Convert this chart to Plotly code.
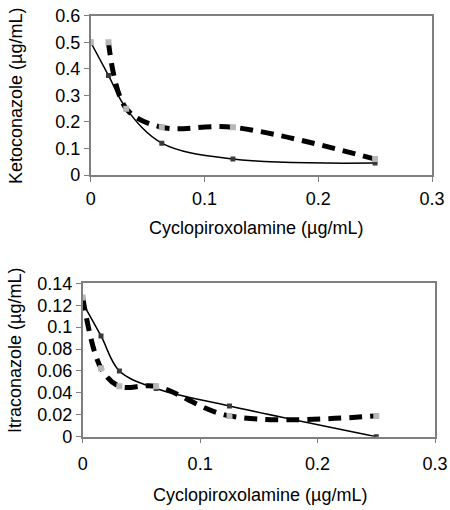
import plotly.graph_objects as go

# Top panel: Ketoconazole vs Cyclopiroxolamine
cpo_x = [0, 0.0156, 0.03125, 0.0625, 0.125, 0.25]
keto_solid = [0.5, 0.375, 0.25, 0.12, 0.06, 0.045]
keto_dashed = [0.5, 0.5, 0.25, 0.18, 0.18, 0.06]

# Bottom panel: Itraconazole vs Cyclopiroxolamine
itra_solid = [0.122, 0.092, 0.06, 0.044, 0.028, 0.0]
itra_dashed = [0.127, 0.0625, 0.046, 0.046, 0.019, 0.019]

x_ticks = [0, 0.1, 0.2, 0.3]
x_ticklabels = ["0", "0.1", "0.2", "0.3"]
keto_ticks = [0, 0.1, 0.2, 0.3, 0.4, 0.5, 0.6]
keto_ticklabels = ["0", "0.1", "0.2", "0.3", "0.4", "0.5", "0.6"]
itra_ticks = [0, 0.02, 0.04, 0.06, 0.08, 0.1, 0.12, 0.14]
itra_ticklabels = ["0", "0.02", "0.04", "0.06", "0.08", "0.1", "0.12", "0.14"]

x_title = "Cyclopiroxolamine (µg/mL)"
keto_title = "Ketoconazole (µg/mL)"
itra_title = "Itraconazole (µg/mL)"

FONT = "Liberation Sans, Arial, sans-serif"
W, H = 450, 510

fig = go.Figure()

SOLID_LINE = dict(color="black", width=1.5, shape="spline", smoothing=1)
SOLID_MARK = dict(symbol="square", size=5, color="#3a3a3a")
DASH_LINE = dict(color="black", width=5, dash="13px,8px", shape="spline", smoothing=1)
DASH_MARK = dict(symbol="square", size=6, color="#b8b8b8")

def add_pair(xa, ya, solid, dashed, dashed_line_start):
    fig.add_trace(go.Scatter(
        x=cpo_x, y=solid, xaxis=xa, yaxis=ya, mode="lines+markers",
        line=SOLID_LINE, marker=SOLID_MARK, showlegend=False, hoverinfo="skip"))
    s = dashed_line_start
    fig.add_trace(go.Scatter(
        x=cpo_x[s:], y=dashed[s:], xaxis=xa, yaxis=ya, mode="lines+markers",
        line=DASH_LINE, marker=DASH_MARK, showlegend=False, hoverinfo="skip"))
    if s > 0:
        fig.add_trace(go.Scatter(
            x=cpo_x[:s], y=dashed[:s], xaxis=xa, yaxis=ya, mode="markers",
            marker=DASH_MARK, showlegend=False, hoverinfo="skip"))

add_pair("x", "y", keto_solid, keto_dashed, 1)
add_pair("x2", "y2", itra_solid, itra_dashed, 0)

def px_dom(a, b, total, flip=False):
    if flip:
        return [1 - b / total, 1 - a / total]
    return [a / total, b / total]

axis_common = dict(
    showline=True, mirror=True, linecolor="#7f7f7f", linewidth=1.5,
    ticks="outside", ticklen=5, tickcolor="#7f7f7f", tickwidth=1,
    showgrid=False, zeroline=False, automargin=False,
    tickfont=dict(family=FONT, size=18, color="black"),
)

fig.update_layout(
    width=W, height=H,
    margin=dict(l=0, r=0, t=0, b=0),
    paper_bgcolor="white", plot_bgcolor="white",
    xaxis=dict(domain=px_dom(90.7, 432, W), range=[0, 0.3], anchor="y",
               tickvals=x_ticks, ticktext=x_ticklabels, ticklabelstandoff=2, **axis_common),
    yaxis=dict(domain=px_dom(15.7, 175, H, flip=True), range=[0, 0.6], anchor="x",
               tickvals=keto_ticks, ticktext=keto_ticklabels, **axis_common),
    xaxis2=dict(domain=px_dom(82.7, 435, W), range=[0, 0.3], anchor="y2",
                tickvals=x_ticks, ticktext=x_ticklabels, ticklabelstandoff=5, **axis_common),
    yaxis2=dict(domain=px_dom(283.3, 436.7, H, flip=True), range=[0, 0.14], anchor="x2",
                tickvals=itra_ticks, ticktext=itra_ticklabels, **axis_common),
)

title_font = dict(family=FONT, size=18, color="black")
fig.add_annotation(text=x_title, x=256 / W, y=1 - 228.5 / H, xref="paper", yref="paper",
                   showarrow=False, font=title_font, xanchor="center", yanchor="middle")
fig.add_annotation(text=x_title, x=260 / W, y=1 - 495 / H, xref="paper", yref="paper",
                   showarrow=False, font=title_font, xanchor="center", yanchor="middle")
fig.add_annotation(text=keto_title, x=16 / W, y=1 - 96 / H, xref="paper", yref="paper",
                   showarrow=False, font=title_font, textangle=-90,
                   xanchor="center", yanchor="middle")
fig.add_annotation(text=itra_title, x=15 / W, y=1 - 351 / H, xref="paper", yref="paper",
                   showarrow=False, font=title_font, textangle=-90,
                   xanchor="center", yanchor="middle")

fig.write_html("out.html", config={"displayModeBar": False},
               post_script="document.body.style.margin='0';document.body.style.overflow='hidden';")
